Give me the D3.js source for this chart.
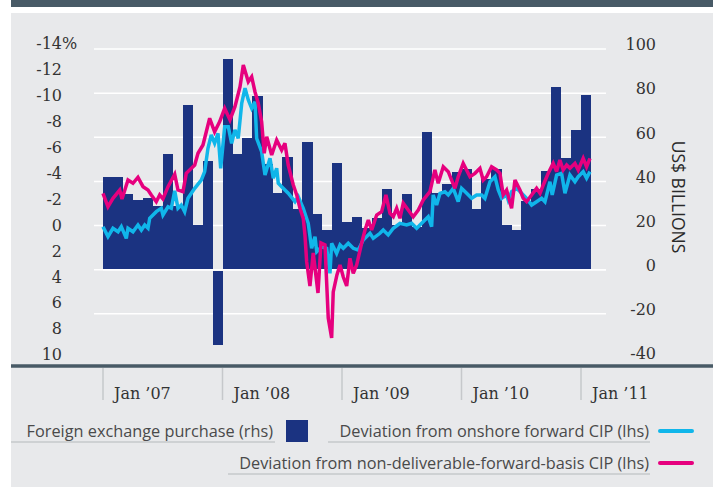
<!DOCTYPE html>
<html>
<head>
<meta charset="utf-8">
<script src="https://cdn.jsdelivr.net/npm/d3@7/dist/d3.min.js"></script>
<style>
  html, body { margin: 0; padding: 0; background: #fff; }
  svg { display: block; }
</style>
</head>
<body>
<div id="chart"></div>
<script>
// --- Data ---
// monthly FX purchase, US$ bn, Jan 2007 .. Jan 2011 (rhs)
const barValues = [42, 42, 34.2, 31.6, 32.6, 29, 52.4, 29, 74.6, 20.3, 49.3, -34.3,
  95.5, 52.4, 59.6, 78.7, 48, 34.6, 51.2, 27.5, 57.8, 25.2, 18, 48.3,
  21.6, 24, 18.7, 23.4, 36.4, 20.2, 34.3, 19.5, 62.3, 34.9, 38.8, 44.3,
  45.8, 27.5, 41, 45.8, 20.4, 18, 31.1, 36.5, 44.7, 82.8, 50.6, 63.3, 79.2];

// time in months since Jan 2007, deviation in % (lhs)
const onshoreT = [0.00, 0.50, 1.00, 1.51, 1.84, 2.34, 2.51, 3.01, 3.51, 3.85, 4.19, 4.52, 4.69, 5.35, 5.85, 6.02, 6.53, 6.86, 7.20, 7.53,
  7.86, 8.20, 8.53, 9.21, 9.87, 10.21, 10.54, 10.87, 11.21, 11.55, 11.82, 12.22, 12.58, 12.92, 13.25, 13.58, 13.93, 14.26, 14.59, 14.93,
  15.26, 15.43, 15.93, 16.27, 16.77, 17.10, 17.44, 17.60, 17.94, 18.60, 19.28, 19.61, 20.11, 20.61, 20.95, 21.29, 21.46, 21.96, 22.46, 22.79,
  22.96, 23.46, 23.80, 24.13, 24.63, 25.13, 25.63, 26.13, 26.81, 27.14, 27.81, 28.14, 28.64, 29.15, 29.82, 30.49, 30.99, 31.50, 32.00, 32.66,
  33.00, 33.16, 33.50, 33.84, 34.34, 34.67, 35.17, 35.67, 36.01, 36.52, 37.02, 37.52, 38.02, 38.35, 38.86, 39.36, 39.69, 40.03, 40.53, 40.69,
  41.03, 41.54, 42.04, 42.54, 43.04, 43.54, 44.05, 44.38, 44.88, 45.11, 45.55, 46.05, 46.39, 46.89, 47.39, 47.72, 48.22, 48.56, 48.90];
const onshoreV = [0.13, 0.90, 0.25, 0.52, 0.13, 1.03, 0.25, 0.52, 0.00, 0.39, 0.00, 0.25, -0.52, -1.03, -1.29, -0.77, -1.41, -1.29, -2.63, -1.29,
  -1.54, -1.03, -2.06, -2.83, -3.47, -4.12, -5.92, -6.95, -6.31, -7.08, -4.38, -7.59, -7.59, -6.31, -7.34, -6.69, -9.40, -10.56, -9.65, -9.01,
  -9.52, -6.69, -5.66, -3.86, -5.15, -3.61, -4.38, -3.22, -2.96, -2.45, -1.80, -2.19, -1.29, -0.13, 1.80, 0.90, 2.06, 1.68, 1.80, 3.73,
  1.41, 2.19, 1.54, 1.80, 1.41, 1.80, 1.93, 1.16, 0.64, 1.03, 0.64, 0.39, 0.77, 0.25, -0.13, 0.00, -0.13, 0.25, -0.13, -0.64,
  0.13, -2.32, -1.54, -2.45, -2.57, -2.32, -2.83, -1.80, -2.83, -2.45, -2.06, -2.32, -2.32, -2.06, -3.34, -3.73, -2.70, -2.06, -2.32, -1.93,
  -2.57, -2.83, -2.45, -2.06, -1.54, -1.80, -2.06, -1.80, -3.34, -2.32, -3.86, -3.99, -2.45, -3.86, -3.34, -3.73, -4.12, -3.61, -4.12];

const ndfT = [0.00, 0.50, 1.00, 1.68, 1.91, 2.51, 3.01, 3.51, 4.02, 4.52, 4.85, 5.35, 5.69, 6.02, 6.53, 7.20, 7.53, 8.03, 8.36, 9.21,
  9.54, 10.04, 10.71, 11.21, 11.72, 12.22, 12.75, 13.25, 13.76, 14.09, 14.59, 14.93, 15.26, 15.59, 15.93, 16.19, 16.44, 16.94, 17.44, 17.94,
  18.27, 18.60, 19.11, 19.45, 19.78, 20.11, 20.28, 20.45, 20.78, 21.11, 21.59, 21.89, 22.29, 22.62, 22.96, 23.12, 23.49, 23.80, 24.13, 24.47,
  24.80, 25.13, 25.47, 25.97, 26.31, 26.64, 26.98, 27.48, 27.98, 28.41, 28.82, 29.15, 29.49, 29.82, 30.15, 30.65, 31.15, 31.66, 32.16, 32.83,
  33.33, 33.66, 34.17, 34.67, 35.34, 35.67, 36.17, 36.85, 37.35, 37.85, 38.18, 38.52, 39.02, 39.53, 39.86, 40.19, 40.53, 41.03, 41.37, 41.87,
  42.20, 42.54, 43.04, 43.54, 43.88, 44.21, 44.71, 45.21, 45.55, 45.88, 46.21, 46.56, 46.89, 47.39, 47.72, 48.22, 48.56, 48.90];
const ndfV = [-2.45, -1.41, -2.06, -2.70, -2.01, -3.47, -3.22, -3.68, -2.96, -2.70, -2.32, -1.80, -2.32, -2.01, -2.96, -3.92, -2.70, -2.57, -3.99, -4.63,
  -5.54, -6.18, -8.24, -7.20, -7.98, -9.01, -8.11, -9.14, -10.68, -12.36, -11.07, -11.45, -10.29, -9.40, -7.98, -5.54, -6.82, -5.41, -6.56, -5.79,
  -6.31, -4.63, -3.09, -2.32, -1.29, -0.51, 0.77, 2.83, 4.71, 2.16, 5.25, 1.39, 1.54, 7.18, 8.73, 5.17, 3.86, 3.09, 4.02, 4.71,
  2.57, 3.73, 3.09, 1.41, 0.39, -0.39, 0.39, -0.77, -1.03, -2.32, -0.90, -0.64, -1.29, -0.52, -1.68, -1.16, -0.64, -1.16, -1.93, -2.57,
  -4.25, -3.22, -4.50, -4.12, -2.83, -3.73, -4.76, -3.73, -3.99, -4.38, -3.47, -3.73, -4.50, -4.25, -3.99, -2.32, -2.70, -1.29, -3.47, -2.70,
  -2.06, -1.80, -2.32, -2.83, -2.45, -3.09, -3.99, -4.76, -4.12, -5.02, -4.25, -4.63, -4.38, -4.76, -4.25, -5.15, -4.50, -5.15];

const leftTicks = [-14, -12, -10, -8, -6, -4, -2, 0, 2, 4, 6, 8, 10];
const rightTicks = [100, 80, 60, 40, 20, 0, -20, -40];
const gridTicks = [100, 80, 60, 40, 20, 0, -20];
const xTickMonths = [0, 12, 24, 36, 48];
const xTickLabels = ['Jan \u201907', 'Jan \u201908', 'Jan \u201909', 'Jan \u201910', 'Jan \u201911'];

const COLORS = { bar: '#1b3381', onshore: '#10b6ea', ndf: '#e6007e', bg: '#e8e9eb', dark: '#485a66' };

const width = 713;
const height = 487;

const svg = d3.select('#chart').append('svg').attr('width', width).attr('height', height);

// panel + header band
svg.append('rect').attr('x', 11).attr('y', 0).attr('width', width - 11).attr('height', 7).attr('fill', COLORS.dark);
svg.append('rect').attr('x', 11).attr('y', 13).attr('width', width - 11).attr('height', height - 13).attr('fill', COLORS.bg);

// scales
const x = d3.scaleLinear().domain([0, 48]).range([103, 581]);
const yL = d3.scaleLinear().domain([-14, 10]).range([43.7, 354.5]);
const yR = d3.scaleLinear().domain([-40, 100]).range([358, 49]);

// gridlines
svg.append('g')
  .selectAll('line')
  .data(gridTicks)
  .join('line')
  .attr('x1', 94).attr('x2', 606)
  .attr('y1', (d) => yR(d)).attr('y2', (d) => yR(d))
  .attr('stroke', '#fff').attr('stroke-width', 1.5);

// bars
svg.append('g')
  .selectAll('rect')
  .data(barValues)
  .join('rect')
  .attr('x', (d, i) => x(i))
  .attr('width', (d, i) => x(i + 1) - x(i) + 0.4)
  .attr('y', (d) => (d >= 0 ? yR(d) : yR(0) + 1.5))
  .attr('height', (d) => Math.max(0, d >= 0 ? yR(0) - yR(d) - 0.5 : yR(d) - yR(0) - 1.5))
  .attr('fill', COLORS.bar)
  .attr('shape-rendering', 'crispEdges');

// zero line faintly over bars
svg.append('line')
  .attr('x1', 103).attr('x2', 606)
  .attr('y1', yR(0) + 0.5).attr('y2', yR(0) + 0.5)
  .attr('stroke', '#fff').attr('stroke-opacity', 0.55).attr('stroke-width', 1.5);

// lines
function drawLine(ts, vs, color) {
  const pts = ts.map((t, i) => [t, vs[i]]);
  svg.append('path')
    .datum(pts)
    .attr('fill', 'none')
    .attr('stroke', color)
    .attr('stroke-width', 3.5)
    .attr('stroke-linejoin', 'miter')
    .attr('stroke-miterlimit', 3)
    .attr('d', d3.line().x((d) => x(d[0])).y((d) => yL(d[1])));
}
drawLine(onshoreT, onshoreV, COLORS.onshore);
drawLine(ndfT, ndfV, COLORS.ndf);

// left axis labels
const serif = '"DejaVu Serif", serif';
svg.append('g')
  .selectAll('text')
  .data(leftTicks)
  .join('text')
  .attr('x', 62)
  .attr('y', (d) => yL(d))
  .attr('dy', '0.36em')
  .attr('text-anchor', 'end')
  .attr('font-family', serif)
  .attr('font-size', 16)
  .attr('fill', '#333')
  .text((d) => d);
svg.append('text')
  .attr('x', 62).attr('y', yL(-14)).attr('dy', '0.36em')
  .attr('font-family', serif).attr('font-size', 16).attr('fill', '#333')
  .text('%');

// right axis labels
svg.append('g')
  .selectAll('text')
  .data(rightTicks)
  .join('text')
  .attr('x', 656)
  .attr('y', (d) => yR(d) - 4.5)
  .attr('dy', '0.36em')
  .attr('text-anchor', 'end')
  .attr('font-family', serif)
  .attr('font-size', 16)
  .attr('fill', '#333')
  .text((d) => d);

svg.append('text')
  .attr('transform', 'translate(672,197) rotate(90)')
  .attr('text-anchor', 'middle')
  .attr('font-family', '"Open Sans", sans-serif')
  .attr('font-size', 17.5)
  .attr('fill', '#2a2a2a')
  .text('US$ BILLIONS');

// x axis
svg.append('line')
  .attr('x1', 11).attr('x2', width)
  .attr('y1', 366).attr('y2', 366)
  .attr('stroke', COLORS.dark).attr('stroke-width', 3.5);

const xt = svg.append('g').selectAll('g').data(xTickMonths).join('g');
xt.append('line')
  .attr('x1', (d) => x(d)).attr('x2', (d) => x(d))
  .attr('y1', 368).attr('y2', 400)
  .attr('stroke', '#c6c8cb').attr('stroke-width', 1.5);
xt.append('text')
  .attr('x', (d) => x(d) + 11)
  .attr('y', 393)
  .attr('dy', '0.36em')
  .attr('font-family', serif)
  .attr('font-size', 16)
  .attr('fill', '#333')
  .text((d, i) => xTickLabels[i]);

// legend
const sans = '"Open Sans", sans-serif';
const legend = svg.append('g').attr('font-family', sans).attr('font-size', 16.3).attr('fill', '#4a4a4a');
const legendItems = [
  { label: 'Foreign exchange purchase (rhs)', tx: 273, ty: 431, ux1: 11, ux2: 275, kind: 'bar', kx: 286 },
  { label: 'Deviation from onshore forward CIP (lhs)', tx: 649, ty: 431, ux1: 328, ux2: 650, kind: 'onshore', kx: 660 },
  { label: 'Deviation from non-deliverable-forward-basis CIP (lhs)', tx: 649, ty: 463, ux1: 228, ux2: 650, kind: 'ndf', kx: 660 }
];
legendItems.forEach((d) => {
  legend.append('text')
    .attr('x', d.tx).attr('y', d.ty).attr('dy', '0.35em')
    .attr('text-anchor', 'end')
    .text(d.label);
  legend.append('line')
    .attr('x1', d.ux1).attr('x2', d.ux2)
    .attr('y1', d.ty + 11).attr('y2', d.ty + 11)
    .attr('stroke', '#c6c8cb').attr('stroke-width', 1.3);
  if (d.kind === 'bar') {
    legend.append('rect').attr('x', d.kx).attr('y', d.ty - 11).attr('width', 22).attr('height', 22).attr('fill', COLORS.bar);
  } else {
    legend.append('line')
      .attr('x1', d.kx).attr('x2', d.kx + 32)
      .attr('y1', d.ty).attr('y2', d.ty)
      .attr('stroke', COLORS[d.kind]).attr('stroke-width', 4).attr('stroke-linecap', 'round');
  }
});
</script>
</body>
</html>
